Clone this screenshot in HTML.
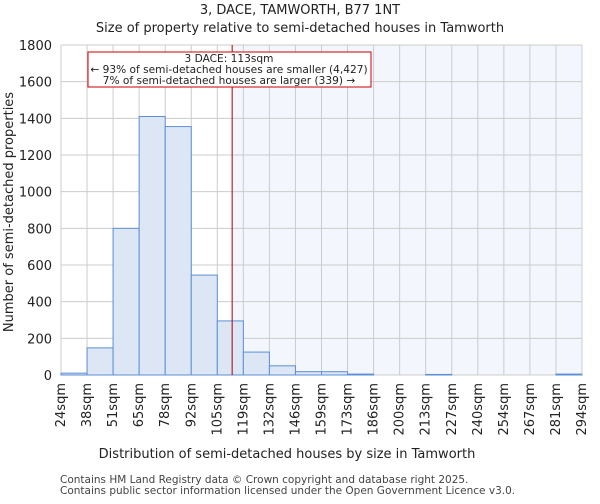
<!DOCTYPE html>
<html><head><meta charset="utf-8"><style>
body{margin:0;background:#fff;font-family:"DejaVu Sans","Liberation Sans",sans-serif}
svg text{font-family:"DejaVu Sans","Liberation Sans",sans-serif}
</style></head><body>
<svg id="c" width="600" height="500"></svg>
<script>
const labels=["24sqm","38sqm","51sqm","65sqm","78sqm","92sqm","105sqm","119sqm","132sqm","146sqm","159sqm","173sqm","186sqm","200sqm","213sqm","227sqm","240sqm","254sqm","267sqm","281sqm","294sqm"];
const counts=[10,148,800,1410,1355,545,295,125,50,18,18,5,0,0,3,0,0,0,0,5];
const yTicks=[0,200,400,600,800,1000,1200,1400,1600,1800];
const markerBin=6.57;
const NS="http://www.w3.org/2000/svg";
const svg=document.getElementById('c');
const L=61,R=582,T=45,B=375,yMax=1800;
const xs=i=>L+(R-L)*i/counts.length;
const ys=v=>B-(B-T)*v/yMax;
function mk(t,a,p){const e=document.createElementNS(NS,t);for(const k in a)e.setAttribute(k,a[k]);(p||svg).appendChild(e);return e;}
function tx(x,y,s,a){const e=mk('text',Object.assign({x:x,y:y,fill:'#222','font-size':12},a||{}));e.textContent=s;return e;}
let e;
const mx=xs(markerBin);
e=mk('rect',{x:mx,y:T,width:R-mx,height:B-T,fill:'#f3f6fd'});


for(let i=0;i<=counts.length;i++){e=mk('line',{x1:xs(i),x2:xs(i),y1:T,y2:B,stroke:'#ccc','stroke-width':1});

}
yTicks.forEach(v=>{e=mk('line',{x1:L,x2:R,y1:ys(v),y2:ys(v),stroke:'#ccc','stroke-width':1});


e=tx(L-9,ys(v)+5,String(v),{'text-anchor':'end','font-size':13});

});
counts.forEach((v,i)=>{e=mk('rect',{x:xs(i),y:ys(v),width:xs(i+1)-xs(i),height:B-ys(v),fill:'#dce6f4',stroke:'#5b8fd6','stroke-width':1});

});
e=mk('line',{x1:mx,x2:mx,y1:T,y2:B,stroke:'#a00','stroke-width':1});


labels.forEach((s,i)=>{const x=xs(i)+4,y=B+8;e=tx(x,y,s,{'text-anchor':'end','font-size':13,transform:`rotate(-90 ${x} ${y})`});

});
const g=mk('g',{});


mk('rect',{x:88,y:52,width:283,height:35,fill:'#fff',stroke:'#c00','stroke-width':1},g);
[['3 DACE: 113sqm',62],['← 93% of semi-detached houses are smaller (4,427)',73],['7% of semi-detached houses are larger (339) →',84]].forEach(([s,y])=>{const t=mk('text',{x:229,y:y,'text-anchor':'middle','font-size':10.6,fill:'#222'},g);t.textContent=s;});
e=tx(300,14,'3, DACE, TAMWORTH, B77 1NT',{'text-anchor':'middle','font-size':13});


e=tx(300,32,'Size of property relative to semi-detached houses in Tamworth',{'text-anchor':'middle','font-size':13});


e=tx(287,458,'Distribution of semi-detached houses by size in Tamworth',{'text-anchor':'middle','font-size':13});


e=tx(13,212,'Number of semi-detached properties',{'text-anchor':'middle','font-size':13,transform:'rotate(-90 13 212)'});


e=tx(60,483,'Contains HM Land Registry data © Crown copyright and database right 2025.',{'font-size':10.5,fill:'#444'});


e=tx(60,494,'Contains public sector information licensed under the Open Government Licence v3.0.',{'font-size':10.5,fill:'#444'});


</script>
</body></html>
